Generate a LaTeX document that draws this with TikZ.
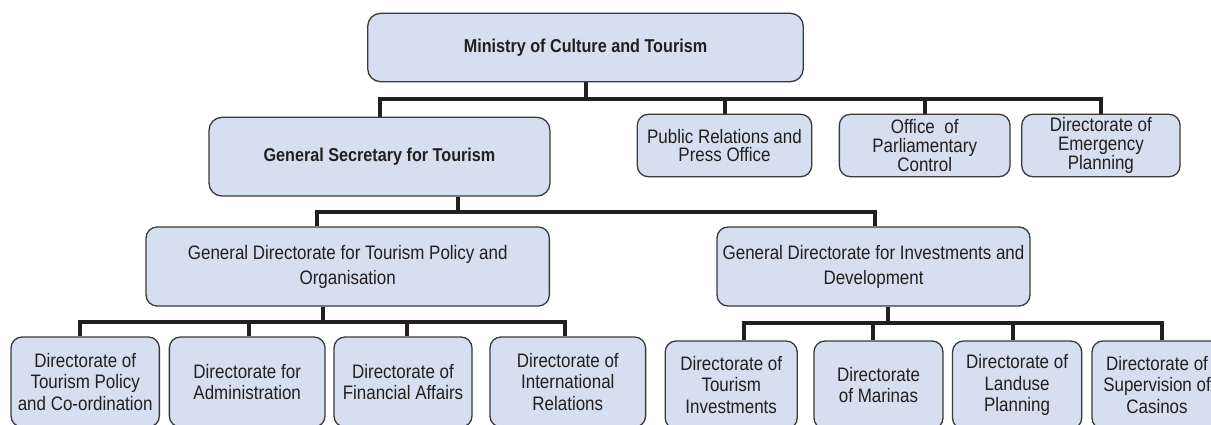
\documentclass[tikz,border=0pt]{standalone}
\usepackage{fontspec}
\setmainfont{Liberation Sans}[FakeStretch=0.87]
\usetikzlibrary{backgrounds}
\definecolor{boxfill}{HTML}{D5DFEF}
\definecolor{boxline}{HTML}{3A3A3A}
\definecolor{ink}{HTML}{231F20}
\tikzset{
  orgbox/.style={draw=boxline, fill=boxfill, line width=1.3pt, rounded corners=11pt,
    inner sep=0pt, align=center, text=ink, font=\fontsize{19.5}{18.8}\selectfont},
  widebox/.style={orgbox, font=\fontsize{19.5}{25}\selectfont},
  lowbox/.style={orgbox, font=\fontsize{19.5}{21.5}\selectfont},
  topbox/.style={orgbox, rounded corners=13pt, font=\bfseries\fontsize{18.6}{20}\selectfont},
  conn/.style={draw=ink, line width=4pt}
}
\begin{document}
\begin{tikzpicture}[x=1pt,y=-1pt]
\useasboundingbox (0,0) rectangle (1211,425);
\clip (0,0) rectangle (1211,425);
% level 0
\node[topbox, minimum width=435.6pt, minimum height=68.4pt] (min) at (585.5,47.5) {Ministry of Culture and Tourism};
% level 1
\node[topbox, minimum width=341pt, minimum height=78.7pt] (gs) at (379.5,156.7) {General Secretary for Tourism};
\node[orgbox, minimum width=174.4pt, minimum height=62.4pt] (pr) at (724.5,145.5) {Public Relations and\\Press Office};
\node[orgbox, minimum width=170.7pt, minimum height=62.4pt] (opc) at (924.7,145.5) {Office\ \ of\\Parliamentary\\Control};
\node[orgbox, minimum width=158.3pt, minimum height=62.4pt] (dep) at (1100.9,145.5) {Directorate of\\Emergency\\Planning};
% level 2
\node[widebox, minimum width=403.3pt, minimum height=79pt] (gd1) at (347.7,266.5) {General Directorate for Tourism Policy and\\Organisation};
\node[widebox, minimum width=313pt, minimum height=79pt] (gd2) at (873.5,266.5) {General Directorate for Investments and\\Development};
% level 3 left
\node[lowbox, minimum width=148.3pt, minimum height=90pt] (b1) at (85.2,382) {Directorate of\\Tourism Policy\\and Co-ordination};
\node[lowbox, minimum width=155.7pt, minimum height=90pt] (b2) at (247.2,382) {Directorate for\\Administration};
\node[lowbox, minimum width=138pt, minimum height=90pt] (b3) at (403,382) {Directorate of\\Financial Affairs};
\node[lowbox, minimum width=155.6pt, minimum height=90pt] (b4) at (567.8,382) {Directorate of\\International\\Relations};
% level 3 right
\node[lowbox, minimum width=132pt, minimum height=88pt] (b5) at (731.2,385) {Directorate of\\Tourism\\Investments};
\node[lowbox, minimum width=129pt, minimum height=88pt] (b6) at (878.5,385) {Directorate\\of Marinas};
\node[lowbox, minimum width=129.2pt, minimum height=88pt] (b7) at (1017.1,385) {Directorate of\\Landuse\\Planning};
\node[lowbox, minimum width=130pt, minimum height=88pt] (b8) at (1157,385) {Directorate of\\Supervision of\\Casinos};
% buses
\coordinate (bus1) at (0,99.3);
\coordinate (bus2) at (0,211.7);
\coordinate (bus3) at (0,321.7);
\coordinate (bus4) at (0,322.7);
\begin{scope}[on background layer]
\draw[conn] (min.south) -- (min.south |- bus1) -| (gs.north);
\draw[conn] (min.south |- bus1) -| (pr.north);
\draw[conn] (min.south |- bus1) -| (opc.north);
\draw[conn] (min.south |- bus1) -| (dep.north);
% level 1 -> 2
\coordinate (gsd) at ([xshift=78.2pt]gs.south);
\coordinate (gd1u) at ([xshift=-30.4pt]gd1.north);
\coordinate (gd2u) at ([xshift=1.5pt]gd2.north);
\draw[conn] (gsd) -- (gsd |- bus2) -| (gd1u);
\draw[conn] (gsd |- bus2) -| (gd2u);
% level 2 -> 3 left
\coordinate (gd1d) at ([xshift=-25pt]gd1.south);
\coordinate (b1u) at ([xshift=-4.9pt]b1.north);
\coordinate (b2u) at ([xshift=1.8pt]b2.north);
\coordinate (b3u) at ([xshift=4.3pt]b3.north);
\coordinate (b4u) at ([xshift=-2.4pt]b4.north);
\draw[conn] (gd1d) -- (gd1d |- bus3) -| (b1u);
\draw[conn] (gd1d |- bus3) -| (b2u);
\draw[conn] (gd1d |- bus3) -| (b3u);
\draw[conn] (gd1d |- bus3) -| (b4u);
% level 2 -> 3 right
\coordinate (gd2d) at ([xshift=14.8pt]gd2.south);
\coordinate (b5u) at ([xshift=12.4pt]b5.north);
\coordinate (b6u) at ([xshift=-5.2pt]b6.north);
\coordinate (b7u) at ([xshift=-4.6pt]b7.north);
\coordinate (b8u) at ([xshift=5pt]b8.north);
\draw[conn] (gd2d) -- (gd2d |- bus4) -| (b5u);
\draw[conn] (gd2d |- bus4) -| (b6u);
\draw[conn] (gd2d |- bus4) -| (b7u);
\draw[conn] (gd2d |- bus4) -| (b8u);
\end{scope}
\end{tikzpicture}
\end{document}
